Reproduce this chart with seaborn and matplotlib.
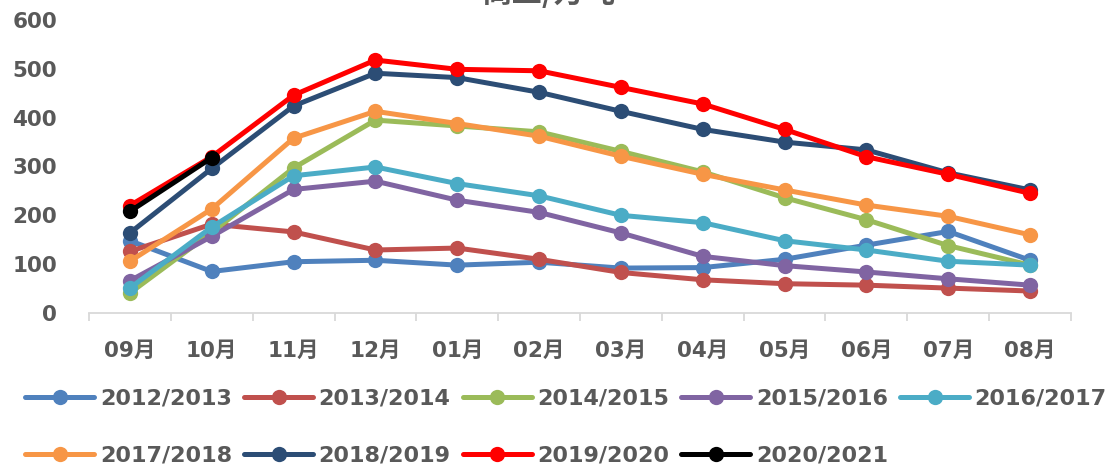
import numpy as np
import pandas as pd
import matplotlib
matplotlib.use("Agg")
import matplotlib.pyplot as plt
from matplotlib.lines import Line2D
from matplotlib.ticker import FixedLocator, NullFormatter, FixedFormatter
import seaborn as sns

months = ["09月", "10月", "11月", "12月", "01月", "02月", "03月", "04月", "05月", "06月", "07月", "08月"]
seasons = ["2012/2013", "2013/2014", "2014/2015", "2015/2016", "2016/2017",
           "2017/2018", "2018/2019", "2019/2020", "2020/2021"]

s2012 = [148, 85, 105, 108, 98, 104, 92, 93, 110, 139, 167, 108]
s2013 = [126, 182, 166, 129, 133, 110, 83, 68, 60, 57, 51, 45]
s2014 = [41, 165, 297, 395, 383, 371, 331, 289, 236, 191, 138, 98]
s2015 = [66, 157, 253, 270, 231, 206, 164, 116, 97, 84, 70, 57]
s2016 = [51, 176, 281, 299, 265, 240, 200, 185, 148, 129, 106, 98]
s2017 = [106, 213, 358, 413, 388, 362, 321, 284, 252, 221, 198, 160]
s2018 = [164, 296, 424, 491, 482, 452, 413, 376, 350, 334, 287, 252]
s2019 = [220, 320, 446, 518, 499, 496, 462, 428, 376, 320, 284, 245]
s2020 = [208, 318, None, None, None, None, None, None, None, None, None, None]

colors = ["#4F81BD", "#C0504D", "#9BBB59", "#8064A2", "#4BACC6",
          "#F79646", "#2C4D75", "#FF0000", "#000000"]

series = [s2012, s2013, s2014, s2015, s2016, s2017, s2018, s2019, s2020]
rows = []
for name, vals in zip(seasons, series):
    for i, (m, v) in enumerate(zip(months, vals)):
        rows.append({"season": name, "pos": i, "month": m,
                     "value": np.nan if v is None else v})
df = pd.DataFrame(rows)

sns.set_theme(style="white")
plt.rcParams["font.family"] = ["DejaVu Sans", "Noto Sans CJK SC"]

fig = plt.figure(figsize=(11.09, 4.66), dpi=100)
ax = fig.add_axes([89 / 1109, 1 - 313 / 466, (1071 - 89) / 1109, (313 - 20) / 466])

txtc = "#595959"
sns.lineplot(data=df.dropna(), x="pos", y="value", hue="season", hue_order=seasons,
             palette=dict(zip(seasons, colors)), marker="o", markersize=11,
             markeredgewidth=0, linewidth=3.6, sort=False, legend=False, ax=ax)

ax.set_xlim(-0.5, 11.5)
ax.set_ylim(0, 600)
ax.set_xlabel("")
ax.set_ylabel("")

# y axis
ax.set_yticks([0, 100, 200, 300, 400, 500, 600])
ax.tick_params(axis="y", length=0, pad=23, labelsize=15.5, labelcolor=txtc)
for t in ax.get_yticklabels():
    t.set_fontweight("bold")

# x axis: boundary ticks (major), labels at centers (minor)
ax.xaxis.set_major_locator(FixedLocator(np.arange(-0.5, 12, 1.0)))
ax.xaxis.set_major_formatter(NullFormatter())
ax.xaxis.set_minor_locator(FixedLocator(np.arange(0, 12)))
ax.xaxis.set_minor_formatter(FixedFormatter(months))
ax.tick_params(axis="x", which="major", direction="out", length=6, width=1.3,
               color="#d9d9d9", bottom=True)
ax.tick_params(axis="x", which="minor", length=0, pad=20, labelsize=15.5,
               labelcolor=txtc, bottom=True)
for t in ax.xaxis.get_minorticklabels():
    t.set_fontweight("bold")

for side in ["top", "right", "left"]:
    ax.spines[side].set_visible(False)
ax.spines["bottom"].set_color("#d9d9d9")
ax.spines["bottom"].set_linewidth(1.3)
ax.grid(False)

# legend (row-wise order: 5 items in row 1, 4 in row 2)
handles = [Line2D([0], [0], color=c, linewidth=3.6, marker="o", markersize=11,
                  markeredgewidth=0) for c in colors]
order = [0, 5, 1, 6, 2, 7, 3, 8, 4]
leg = fig.legend([handles[i] for i in order], [seasons[i] for i in order],
                 loc="center", ncol=5,
                 bbox_to_anchor=(566 / 1109, 1 - 427 / 466), frameon=False,
                 prop={"size": 16, "weight": "bold"}, handlelength=3.1,
                 handletextpad=0.25, columnspacing=0.55, labelspacing=1.65,
                 borderpad=0)
for t in leg.get_texts():
    t.set_color(txtc)

# title (mostly outside the canvas, as in the reference)
fig.text(548 / 1109, 1 - 9 / 466, "商业/万吨", ha="center", va="bottom",
         fontsize=22, fontweight="bold", color=txtc,
         family=["Noto Sans CJK SC", "DejaVu Sans"])

fig.savefig("out.png", dpi=100)
